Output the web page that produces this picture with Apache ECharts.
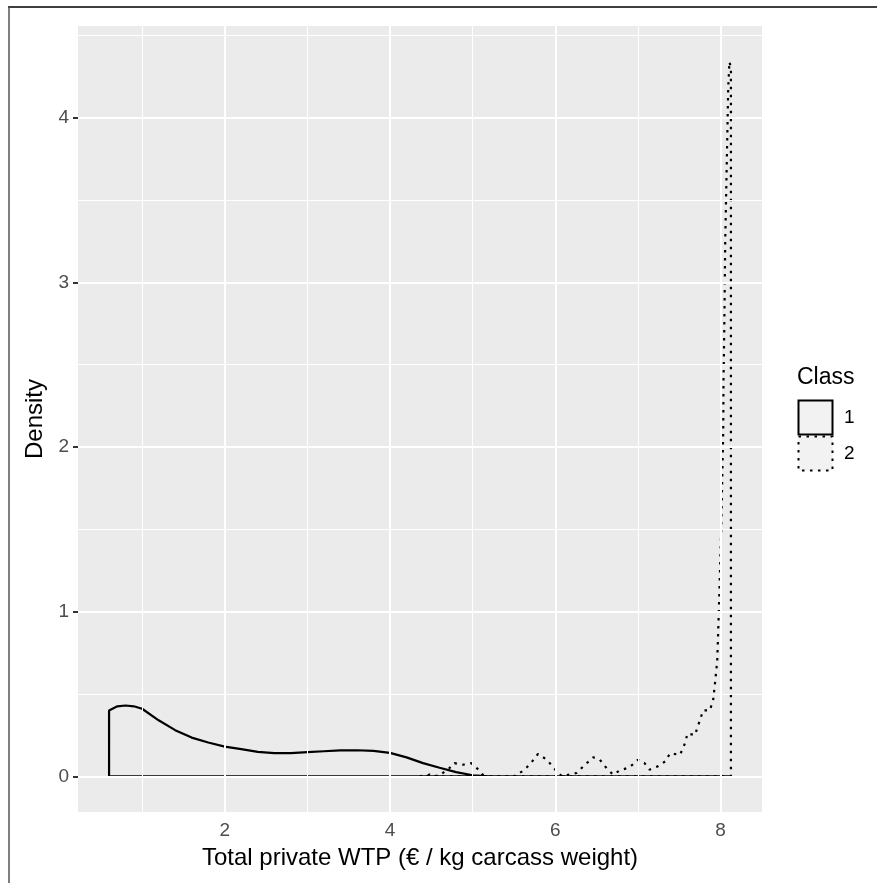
<!DOCTYPE html>
<html>
<head>
<meta charset="utf-8">
<script src="https://cdn.jsdelivr.net/npm/echarts@6/dist/echarts.min.js"></script>
<style>
html,body{margin:0;padding:0;background:#fff;}
#chart{width:877px;height:883px;}
</style>
</head>
<body>
<div id="chart"></div>
<script>
// ---- data ----
const class1X = [0.6, 0.6, 0.7, 0.8, 0.9, 1.0, 1.2, 1.4, 1.6, 1.8, 2.0, 2.2, 2.4, 2.6, 2.8, 3.0, 3.2, 3.4, 3.6, 3.8, 4.0, 4.2, 4.4, 4.6, 4.8, 5.0, 5.2, 8.126, 8.126, 0.6];
const class1Y = [0, 0.40, 0.425, 0.43, 0.425, 0.41, 0.34, 0.28, 0.235, 0.205, 0.18, 0.165, 0.148, 0.141, 0.141, 0.147, 0.152, 0.157, 0.158, 0.154, 0.142, 0.115, 0.08, 0.052, 0.025, 0.006, 0.0, 0.0, 0, 0];

const class2X = [4.36, 4.36, 4.48, 4.6, 4.64, 4.72, 4.78, 4.88, 4.98, 5.05, 5.12, 5.2, 5.5, 5.6, 5.69, 5.79, 5.9, 6.0, 6.08, 6.26, 6.36, 6.46, 6.54, 6.62, 6.7, 6.78, 6.9, 7.0, 7.08, 7.14, 7.24, 7.33, 7.39, 7.51, 7.57, 7.6, 7.69, 7.75, 7.79, 7.87, 7.91, 7.93, 7.96, 7.972, 7.984, 7.996, 8.008, 8.02, 8.033, 8.036, 8.045, 8.057, 8.081, 8.093, 8.108, 8.126, 8.126, 4.36];
const class2Y = [0, 0.0, 0.01, 0.0, 0.02, 0.05, 0.08, 0.07, 0.08, 0.05, 0.01, 0.0, 0.0, 0.03, 0.07, 0.135, 0.10, 0.04, 0.0, 0.02, 0.07, 0.115, 0.10, 0.05, 0.01, 0.035, 0.055, 0.10, 0.08, 0.04, 0.06, 0.09, 0.14, 0.13, 0.20, 0.26, 0.25, 0.34, 0.40, 0.40, 0.46, 0.55, 0.70, 0.88, 1.08, 1.29, 1.49, 1.79, 2.10, 2.40, 2.70, 3.25, 3.86, 4.18, 4.34, 4.30, 0, 0];

const xTicks = [2, 4, 6, 8];
const yTicks = [0, 1, 2, 3, 4];
const xMinor = [1, 3, 5, 7];
const yMinor = [0.5, 1.5, 2.5, 3.5, 4.5];
const classNames = ['1', '2'];

const xTitle = 'Total private WTP (€ / kg carcass weight)';
const yTitle = 'Density';
const legendTitle = 'Class';

// ---- build ----
const pairs = (xs, ys) => xs.map((x, i) => [x, ys[i]]);
const FONT = '"Liberation Sans", Arial, sans-serif';

const gridLines = [];
xMinor.forEach(v => gridLines.push({xAxis: v, lineStyle: {width: 1}}));
yMinor.forEach(v => gridLines.push({yAxis: v, lineStyle: {width: 1}}));
xTicks.forEach(v => gridLines.push({xAxis: v, lineStyle: {width: 2}}));
yTicks.forEach(v => gridLines.push({yAxis: v, lineStyle: {width: 2}}));

const chart = echarts.init(document.getElementById('chart'), null, {renderer: 'canvas'});
chart.setOption({
  animation: false,
  backgroundColor: '#ffffff',
  grid: {left: 78, right: 115, top: 26, bottom: 71, show: true, backgroundColor: '#EBEBEB', borderWidth: 0},
  xAxis: {
    type: 'value', min: 0.224, max: 8.502,
    name: xTitle, nameLocation: 'middle', nameGap: 34,
    nameTextStyle: {fontFamily: FONT, fontSize: 24, color: '#000'},
    axisLine: {show: false},
    axisTick: {show: true, customValues: xTicks, length: 5, lineStyle: {color: '#333', width: 2}},
    axisLabel: {customValues: xTicks, fontFamily: FONT, fontSize: 19, color: '#4D4D4D', margin: 9},
    splitLine: {show: false}
  },
  yAxis: {
    type: 'value', min: -0.217, max: 4.557,
    name: yTitle, nameLocation: 'middle', nameGap: 28, nameRotate: 90,
    nameTextStyle: {fontFamily: FONT, fontSize: 24, color: '#000'},
    axisLine: {show: false},
    axisTick: {show: true, customValues: yTicks, length: 5, lineStyle: {color: '#333', width: 2}},
    axisLabel: {customValues: yTicks, fontFamily: FONT, fontSize: 19, color: '#4D4D4D', margin: 9},
    splitLine: {show: false}
  },
  series: [
    {
      type: 'line', data: [], z: 1, silent: true,
      markLine: {silent: true, symbol: 'none', label: {show: false}, animation: false,
        lineStyle: {color: '#ffffff', type: 'solid'}, data: gridLines}
    },
    {
      name: classNames[0], type: 'line', z: 3, data: pairs(class1X, class1Y),
      showSymbol: false, symbol: 'none', smooth: false,
      lineStyle: {color: '#000', width: 2.2, type: 'solid'}
    },
    {
      name: classNames[1], type: 'line', z: 3, data: pairs(class2X, class2Y),
      showSymbol: false, symbol: 'none', smooth: false,
      lineStyle: {color: '#000', width: 2.2, type: [2.5, 5.5]}
    }
  ],
  graphic: [
    {type: 'line', shape: {x1: 8, y1: 7, x2: 877, y2: 7}, style: {stroke: '#000', lineWidth: 1.5}},
    {type: 'line', shape: {x1: 9, y1: 7, x2: 9, y2: 883}, style: {stroke: '#555', lineWidth: 1.5}},
    {type: 'text', left: 797, top: 366, style: {text: legendTitle, font: '23px ' + FONT, fill: '#000'}},
    {type: 'rect', shape: {x: 798.5, y: 400.5, width: 34, height: 34}, style: {fill: '#F2F2F2', stroke: '#000', lineWidth: 2}},
    {type: 'rect', shape: {x: 798.5, y: 436.5, width: 34, height: 34}, style: {fill: '#F2F2F2', stroke: '#000', lineWidth: 2, lineDash: [2.5, 5.5]}},
    {type: 'text', left: 844, top: 408, style: {text: classNames[0], font: '19px ' + FONT, fill: '#000'}},
    {type: 'text', left: 844, top: 444, style: {text: classNames[1], font: '19px ' + FONT, fill: '#000'}}
  ]
});
</script>
</body>
</html>
